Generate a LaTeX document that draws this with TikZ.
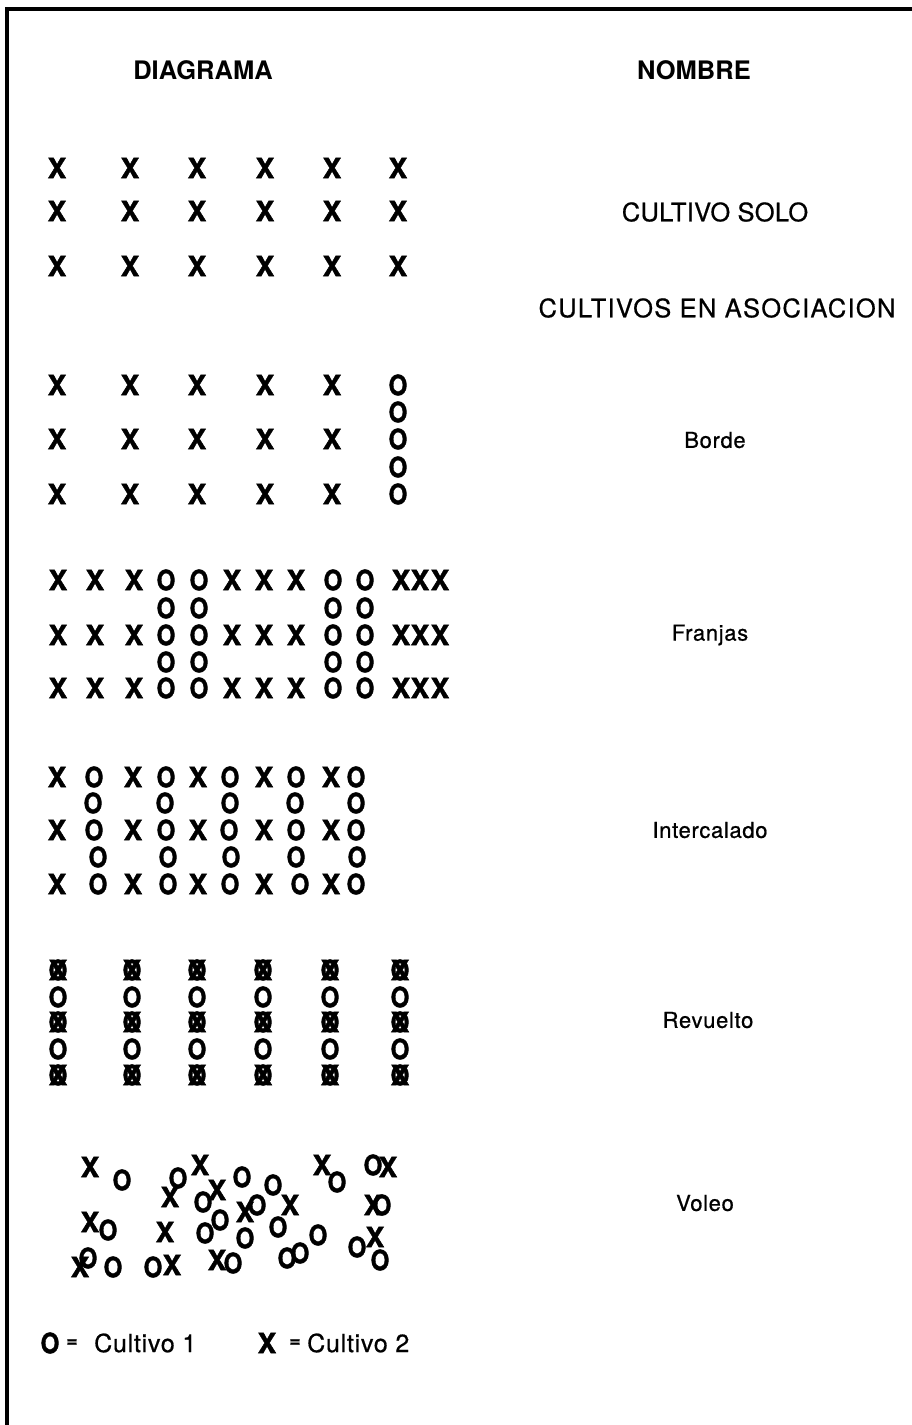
\documentclass[tikz,border=0pt]{standalone}
\usepackage{fontspec}
\usepackage{graphicx}
\setmainfont{TeX Gyre Heros}
\newfontfamily\hvwide[LetterSpace=5, FakeBold=0.6]{TeX Gyre Heros}
\newfontfamily\hvcap[LetterSpace=1, FakeBold=0.6]{TeX Gyre Heros}
\newfontfamily\hvlab[LetterSpace=3, FakeBold=0.7]{TeX Gyre Heros}
\newfontfamily\markfont[BoldFeatures={FakeBold=1.6}]{TeX Gyre Heros}
\newcommand\ooglyph{\scalebox{0.86}[1]{O}}
\begin{document}
\begin{tikzpicture}[x=1pt,y=-1pt,
  mk/.style={inner sep=0pt, font=\fontsize{28}{28}\selectfont\markfont\bfseries},
  hdr/.style={inner sep=0pt, font=\fontsize{25.5}{26}\selectfont\bfseries},
  captxt/.style={inner sep=0pt, font=\fontsize{25.5}{26}\selectfont\hvcap},
  capwide/.style={inner sep=0pt, font=\fontsize{25.5}{26}\selectfont\hvwide},
  lab/.style={inner sep=0pt, font=\fontsize{22}{22}\selectfont\hvlab},
  leg/.style={inner sep=0pt, font=\fontsize{25}{25}\selectfont\hvlab},
  legeq/.style={inner sep=0pt, font=\fontsize{19}{19}\selectfont\markfont\bfseries},
  framestyle/.style={line width=3.8pt, black}]
\useasboundingbox (0,0) rectangle (912,1425);
\fill[white] (0,0) rectangle (912,1425);
% frame
\coordinate (ftl) at (7,9);
\coordinate (ftr) at (912,9);
\coordinate (fbl) at (7,1425);
\draw[framestyle] (ftr) -- (ftl) -- (fbl);
% headers
\node[hdr] (hdiag) at (203,70) {DIAGRAMA};
\node[hdr] (hnom) at (694,70) {NOMBRE};
% names
\node[captxt] (nsolo) at (715,212) {CULTIVO SOLO};
\node[capwide] (nasoc) at (717,308) {CULTIVOS EN ASOCIACION};
\node[lab] (nborde) at (715,440) {Borde};
\node[lab] (nfranjas) at (710,635) {Franjas};
\node[lab] (ninter) at (710,830) {Intercalado};
\node[lab] (nrev) at (708,1020) {Revuelto};
\node[lab] (nvoleo) at (705,1203) {Voleo};
% cultivo solo
\foreach \y [count=\j] in {168,211,266}
  \foreach \x [count=\i] in {57,130,197,265,332,398}
    \node[mk] (s-\i-\j) at (\x,\y) {X};
% borde
\foreach \y [count=\j] in {385,439,494}
  \foreach \x [count=\i] in {57,130,197,265,332}
    \node[mk] (bx-\i-\j) at (\x,\y) {X};
\foreach \y [count=\j] in {385,412,439,467,494}
  \node[mk] (bo-\j) at (398,\y) {\ooglyph};
% franjas
\foreach \y [count=\j] in {580,635,688}
  \foreach \x [count=\i] in {58,95,134,232,264,296,401,420,440}
    \node[mk] (fx-\i-\j) at (\x,\y) {X};
\foreach \y [count=\j] in {580,608,635,662,688}
  \foreach \x [count=\i] in {166,199,333,365}
    \node[mk] (fo-\i-\j) at (\x,\y) {\ooglyph};
% intercalado
\foreach \y [count=\j] in {777,830,884}
  \foreach \x [count=\i] in {57,133,198,264,331}
    \node[mk] (ix-\i-\j) at (\x,\y) {X};
\foreach \x [count=\i] in {94,166,230,296,356}
  \node[mk] (io-\i-1) at (\x,777) {\ooglyph};
\foreach \x [count=\i] in {93,165,230,295,356}
  \node[mk] (io-\i-2) at (\x,803) {\ooglyph};
\foreach \x [count=\i] in {94,166,229,296,356}
  \node[mk] (io-\i-3) at (\x,830) {\ooglyph};
\foreach \x [count=\i] in {98,168,231,296,357}
  \node[mk] (io-\i-4) at (\x,857) {\ooglyph};
\foreach \x [count=\i] in {98,168,230,300,356}
  \node[mk] (io-\i-5) at (\x,884) {\ooglyph};
% revuelto
\foreach \x [count=\i] in {58,132,197,263,330,400}{
  \foreach \y [count=\j] in {970,1022,1075}{
    \node[mk] (ro-\i-\j) at (\x,\y) {\ooglyph};
    \node[mk] (rx-\i-\j) at (\x,\y) {X};
  }
  \foreach \y [count=\j] in {997,1049}
    \node[mk] (rp-\i-\j) at (\x,\y) {\ooglyph};
}
% voleo
\foreach \x/\y [count=\i] in {90/1167,200/1165,170/1197,217/1190,290/1205,322/1165,388/1167,373/1205,245/1212,90/1222,165/1232,375/1237,80/1267,172/1265,217/1260}
  \node[mk] (vx-\i) at (\x,\y) {X};
\foreach \x/\y [count=\i] in {122/1180,178/1178,242/1177,203/1202,273/1185,337/1182,373/1165,382/1205,257/1205,220/1220,205/1233,108/1230,245/1238,278/1227,318/1235,357/1247,380/1260,88/1258,113/1267,153/1267,233/1263,287/1258,300/1253}
  \node[mk] (vo-\i) at (\x,\y) {\ooglyph};
% legend
\node[mk] (lo) at (50,1343) {\ooglyph};
\node[legeq] (leq1) at (72,1343) {=};
\node[leg, anchor=west] (lc1) at (94,1343) {Cultivo 1};
\node[mk] (lx) at (267,1343) {X};
\node[legeq] (leq2) at (295,1343) {=};
\node[leg, anchor=west] (lc2) at (307,1343) {Cultivo 2};
\end{tikzpicture}
\end{document}
